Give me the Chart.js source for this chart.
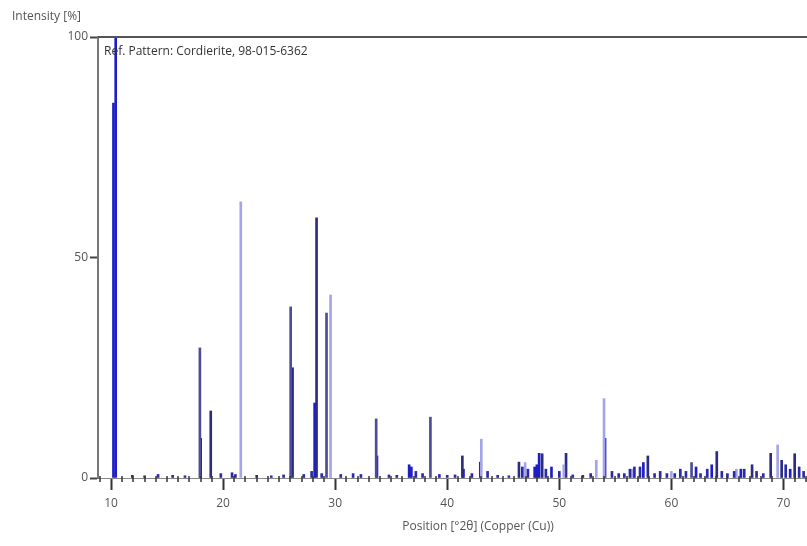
<!DOCTYPE html>
<html>
<head>
<meta charset="utf-8">
<script src="https://cdn.jsdelivr.net/npm/chart.js@4/dist/chart.umd.min.js"></script>
<style>
html,body{margin:0;padding:0;background:#fff;}
canvas{display:block;}
</style>
</head>
<body>
<canvas id="xrd" width="807" height="546"></canvas>
<script>
// stick pattern, position [°2θ] + intensity [%], grouped by line colour
const bluePos  = [10.22, 10.42, 18.0, 28.17, 33.73, 36.6, 36.8, 41.45, 48.0, 48.2, 47.8, 49.3, 54.08, 57.5, 62.2, 63.6, 66.2, 70.6];
const blueInt  = [85, 100, 9, 17, 5, 3, 2.5, 2, 3, 5.6, 2.5, 2.5, 9, 3.5, 2.5, 3, 2, 2];

const navyPos  = [18.9, 26.2, 28.34, 41.35, 42.95, 46.4, 48.47, 50.6, 57.9, 64.05, 67.2, 68.86, 69.84, 71.0];
const navyInt  = [15.2, 25, 59, 5, 3.6, 3.6, 5.5, 5.6, 5, 6, 3, 5.6, 4, 5.5];

const slatePos = [17.93, 26.03, 29.23, 33.66, 38.5, 61.8];
const slateInt = [29.5, 38.8, 37.4, 13.4, 13.8, 3.5];

const lightPos = [21.58, 29.59, 43.04, 46.95, 50.4, 53.3, 53.99, 56.5, 60.0, 65.8, 69.48];
const lightInt = [62.6, 41.5, 8.8, 3.5, 3, 4, 18, 2, 1.5, 2, 7.5];

// the many little lines sitting on the baseline
const smallPos = [11.9, 13.0, 14.2, 15.5, 16.6, 19.8, 20.8, 21.1, 23.0, 24.3, 25.4, 27.2, 27.9, 28.8,
  30.5, 31.6, 32.3, 34.8, 35.5, 37.2, 37.8, 39.3, 40.0, 40.7, 42.2, 43.6, 44.5, 45.5, 46.7, 47.2,
  48.8, 50.0, 51.2, 52.1, 52.8, 54.7, 55.3, 55.8, 56.3, 56.7, 57.2, 58.5, 59.0, 59.6, 60.3, 60.8,
  61.3, 62.6, 63.2, 64.5, 65.0, 65.6, 66.5, 67.6, 68.2, 70.2, 71.4, 71.8];
const smallInt = [0.6, 0.5, 0.8, 0.6, 0.5, 1, 1.2, 0.8, 0.6, 0.5, 0.7, 0.8, 1.5, 1, 0.8, 1, 0.8, 0.7,
  0.6, 1.5, 1, 0.8, 0.6, 0.7, 1, 1.5, 0.6, 0.5, 2.5, 2, 2, 1.5, 0.7, 0.6, 1, 1.5, 1, 1, 2, 2.5, 2.5,
  1, 1.5, 1, 1, 2, 1.5, 1, 2, 1.5, 1, 1.5, 2, 1.5, 1, 3, 2.5, 1.5];

const xTicks = [10, 20, 30, 40, 50, 60, 70];
const yTicks = [0, 50, 100];
const yTitle = 'Intensity [%]';
const xTitle = 'Position [°2θ] (Copper (Cu))';
const refLabel = 'Ref. Pattern: Cordierite, 98-015-6362';

const FONT = '"Open Sans", "DejaVu Sans", sans-serif';

function pts(xs, ys){ return xs.map((x,i)=>({x:x, y:ys[i]})); }

function stickSet(label, xs, ys, color){
  return {
    label: label,
    data: pts(xs, ys),
    backgroundColor: color,
    borderWidth: 0,
    barThickness: 2,
    grouped: false
  };
}

const frame = {
  id: 'frame',
  afterDraw(chart){
    const ctx = chart.ctx, a = chart.chartArea, xs = chart.scales.x;
    ctx.save();
    // top border of the plot box
    ctx.strokeStyle = '#555';
    ctx.lineWidth = 2;
    ctx.beginPath();
    ctx.moveTo(a.left, a.top); ctx.lineTo(chart.width, a.top);
    ctx.stroke();
    // minor ticks every 1 °2θ
    ctx.strokeStyle = '#333';
    ctx.lineWidth = 1.5;
    for(let v = Math.ceil(xs.min); v <= xs.max; v++){
      if(v % 10 === 0) continue;
      const px = Math.round(xs.getPixelForValue(v));
      ctx.beginPath();
      ctx.moveTo(px, a.bottom - 2); ctx.lineTo(px, a.bottom + 4);
      ctx.stroke();
    }
    // texts
    ctx.fillStyle = '#555';
    ctx.font = '12px ' + FONT;
    ctx.textBaseline = 'middle';
    ctx.textAlign = 'left';
    ctx.fillText(yTitle, 12, 17);
    ctx.textAlign = 'center';
    ctx.fillText(xTitle, 478, 527);
    ctx.fillStyle = '#333';
    ctx.textAlign = 'left';
    ctx.fillText(refLabel, 104, 52);
    ctx.restore();
  }
};

new Chart(document.getElementById('xrd'), {
  type: 'bar',
  data: {
    datasets: [
      stickSet('small', smallPos, smallInt, '#2a2aa8'),
      stickSet('light', lightPos, lightInt, '#a4a4ea'),
      stickSet('slate', slatePos, slateInt, '#4c4c98'),
      stickSet('navy', navyPos, navyInt, '#2c2c82'),
      stickSet('blue', bluePos, blueInt, '#1e1ec8')
    ]
  },
  options: {
    responsive: false,
    animation: false,
    layout: {padding: {top: 37, right: 0, left: 0, bottom: 0}},
    plugins: {legend: {display: false}, tooltip: {enabled: false}},
    scales: {
      x: {
        type: 'linear',
        min: 8.84, max: 72.1,
        offset: false,
        afterFit(s){ s.height = 68; },
        afterBuildTicks(s){ s.ticks = xTicks.map(v=>({value:v})); },
        grid: {offset: false, drawOnChartArea: false, drawTicks: true, tickLength: 12, tickColor: '#333', tickWidth: 2},
        border: {display: true, color: '#888', width: 1},
        ticks: {color: '#555', font: {family: FONT, size: 12}, padding: 6, maxRotation: 0}
      },
      y: {
        min: 0, max: 100,
        afterFit(s){ s.width = 98; },
        afterBuildTicks(s){ s.ticks = yTicks.map(v=>({value:v})); },
        grid: {offset: false, drawOnChartArea: false, drawTicks: true, tickLength: 8, tickColor: '#444', tickWidth: 2},
        border: {display: true, color: '#777', width: 2},
        ticks: {color: '#555', font: {family: FONT, size: 12}, padding: 2}
      }
    }
  },
  plugins: [frame]
});
</script>
</body>
</html>
